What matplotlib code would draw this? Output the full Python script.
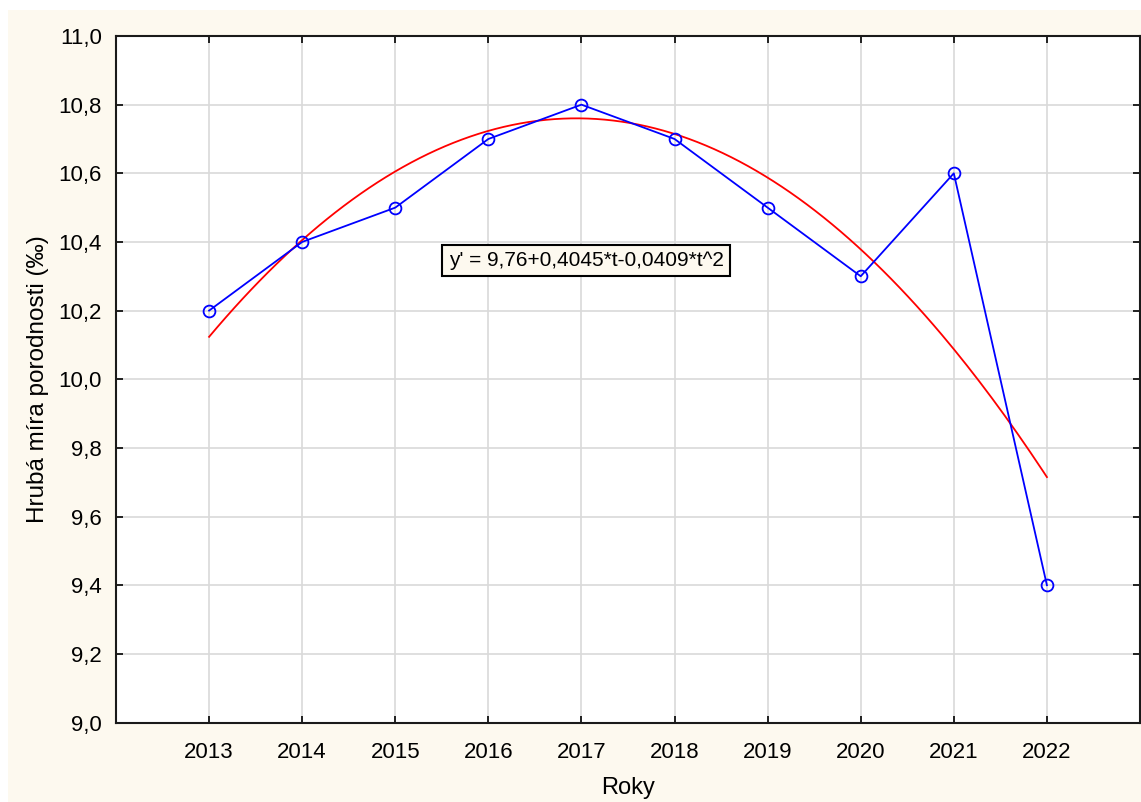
import numpy as np
import matplotlib
matplotlib.use("Agg")
import matplotlib.pyplot as plt
from matplotlib.patches import Rectangle

years = [2013, 2014, 2015, 2016, 2017, 2018, 2019, 2020, 2021, 2022]
rate = [10.2, 10.4, 10.5, 10.7, 10.8, 10.7, 10.5, 10.3, 10.6, 9.4]

# quadratic trend y' = b0 + b1*t + b2*t^2, t = 1..10
b0, b1, b2 = 9.76, 0.4045, -0.0409

yticks = [9.0, 9.2, 9.4, 9.6, 9.8, 10.0, 10.2, 10.4, 10.6, 10.8, 11.0]

plt.rcParams['font.family'] = ['Liberation Sans', 'DejaVu Sans']

fig = plt.figure(figsize=(11.41, 8.02), dpi=100)
fig.patch.set_facecolor('white')
# cream background panel (leaves a thin white strip on top and left)
panel = Rectangle((8 / 1141, 0), 1 - 8 / 1141, 1 - 10 / 802,
                  transform=fig.transFigure, facecolor='#fdf9ef',
                  edgecolor='none', zorder=-10)
fig.add_artist(panel)

ax = fig.add_axes([116 / 1141, 1 - 722.5 / 802, 1024 / 1141, 686.5 / 802])
ax.set_facecolor('white')

t = np.linspace(1, len(years), 200)
trend = b0 + b1 * t + b2 * t ** 2
ax.plot(years[0] - 1 + t, trend, color='red', lw=1.3, zorder=3)

ax.plot(years, rate, color='blue', lw=1.3, marker='o', markersize=8.5,
        markerfacecolor='none', markeredgecolor='blue', markeredgewidth=1.3, zorder=4)

ax.set_xlim(2012, 2023)
ax.set_ylim(9.0, 11.0)
ax.set_xticks(years)
ax.set_xticklabels([str(y) for y in years])
ax.set_yticks(yticks)
ax.set_yticklabels([f"{v:.1f}".replace('.', ',') for v in yticks])

ax.grid(True, color='#d9d9d9', lw=1.2, zorder=0)
ax.set_axisbelow(True)
ax.tick_params(direction='in', length=5, width=1.2, top=True, right=True,
               labelsize=16, colors='black')
ax.tick_params(axis='x', pad=14)
ax.tick_params(axis='y', pad=10)
for s in ax.spines.values():
    s.set_linewidth(1.5)
    s.set_color('#1a1a1a')

ax.set_xlabel('Roky', fontsize=17, labelpad=10)
ax.set_ylabel('Hrubá míra porodnosti (‰)', fontsize=17.5, labelpad=7)

ax.text(0.459, 0.673, "y' = 9,76+0,4045*t-0,0409*t^2", transform=ax.transAxes,
        ha='center', va='center', fontsize=15, zorder=5,
        bbox=dict(boxstyle='square,pad=0.3', facecolor='#fdf9ef', edgecolor='black', lw=1.5))

fig.savefig('out.png', dpi=100)
